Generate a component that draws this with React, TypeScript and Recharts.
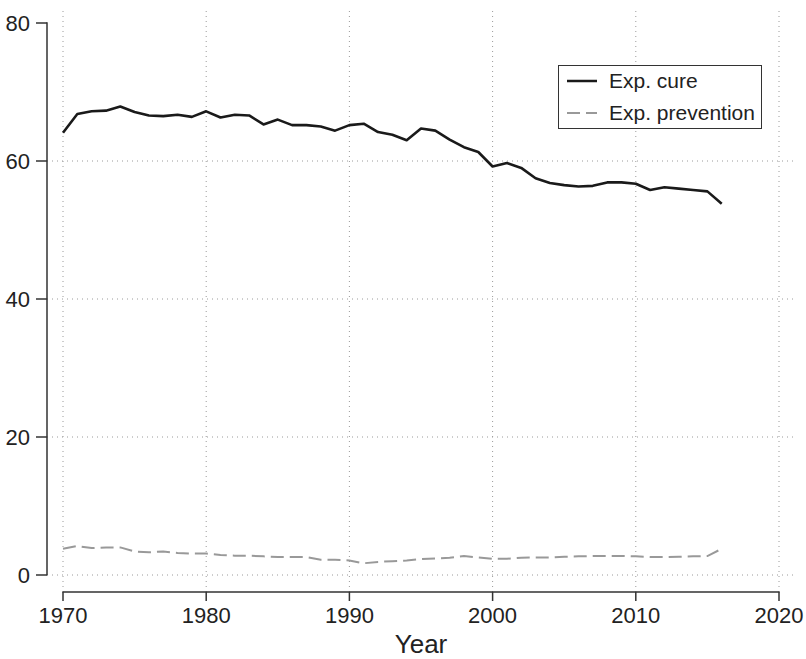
import {
  LineChart, Line, XAxis, YAxis, ReferenceLine, Legend,
} from 'recharts'

const YEARS = [
  1970, 1971, 1972, 1973, 1974, 1975, 1976, 1977, 1978, 1979,
  1980, 1981, 1982, 1983, 1984, 1985, 1986, 1987, 1988, 1989,
  1990, 1991, 1992, 1993, 1994, 1995, 1996, 1997, 1998, 1999,
  2000, 2001, 2002, 2003, 2004, 2005, 2006, 2007, 2008, 2009,
  2010, 2011, 2012, 2013, 2014, 2015, 2016,
]

const CURE = [
  64.1, 66.8, 67.2, 67.3, 67.9, 67.1, 66.6, 66.5, 66.7, 66.4,
  67.2, 66.3, 66.7, 66.6, 65.3, 66.0, 65.2, 65.2, 65.0, 64.4,
  65.2, 65.4, 64.2, 63.8, 63.0, 64.7, 64.4, 63.1, 62.0, 61.3,
  59.2, 59.7, 59.0, 57.5, 56.8, 56.5, 56.3, 56.4, 56.9, 56.9,
  56.7, 55.8, 56.2, 56.0, 55.8, 55.6, 53.8,
]

const PREVENTION = [
  3.8, 4.2, 3.9, 4.0, 4.0, 3.4, 3.3, 3.4, 3.2, 3.1,
  3.1, 2.9, 2.8, 2.8, 2.7, 2.6, 2.6, 2.6, 2.2, 2.2,
  2.1, 1.7, 1.9, 2.0, 2.1, 2.3, 2.4, 2.5, 2.75, 2.55,
  2.35, 2.35, 2.5, 2.55, 2.55, 2.65, 2.7, 2.75, 2.75, 2.75,
  2.7, 2.6, 2.6, 2.65, 2.7, 2.75, 3.8,
]

const X_TICKS = [1970, 1980, 1990, 2000, 2010, 2020]
const Y_TICKS = [0, 20, 40, 60, 80]
// Stata leaves out the grid line at the top value
const Y_GRID = [0, 20, 40, 60]

const data = YEARS.map((year, i) => ({ year, cure: CURE[i], prevention: PREVENTION[i] }))

const FONT = '"Liberation Sans", Arial, Helvetica, sans-serif'
const AXIS = '#333'
const GRID = '#9a9a9a'

function LegendBox() {
  const rows = [
    { label: 'Exp. cure', color: '#1a1a1a', dash: undefined, w: 2.5 },
    { label: 'Exp. prevention', color: '#999', dash: '13 6', w: 2 },
  ]
  return (
    <div style={{
      width: 204, boxSizing: 'border-box', border: '1.5px solid #333', background: '#fff',
      padding: '1px 8px', fontFamily: FONT, fontSize: 21, color: '#222',
    }}>
      {rows.map((r, i) => (
        <div key={r.label} style={{ display: 'flex', alignItems: 'center', height: 28, marginTop: i ? 4 : 0, whiteSpace: 'nowrap' }}>
          <svg width={30} height={6} style={{ marginRight: 12, flex: 'none' }}>
            <line x1={0} y1={3} x2={30} y2={3} stroke={r.color} strokeWidth={r.w} strokeDasharray={r.dash} />
          </svg>
          <span>{r.label}</span>
        </div>
      ))}
    </div>
  )
}

export default function App() {
  return (
    <div style={{ position: 'absolute', left: 0, top: 0, background: '#fff' }}>
      <LineChart width={806} height={659} data={data} margin={{ top: 10, right: 11, bottom: 0, left: 0 }}>
        {Y_GRID.map(v => (
          <ReferenceLine key={'y' + v} y={v} stroke={GRID} strokeDasharray="1 4" strokeWidth={1} />
        ))}
        {X_TICKS.map(v => (
          <ReferenceLine key={'x' + v} x={v} stroke={GRID} strokeDasharray="1 4" strokeWidth={1} />
        ))}
        <XAxis
          dataKey="year" type="number" domain={[1970, 2020]} ticks={X_TICKS}
          padding={{ left: 16, right: 16 }} height={67}
          tickSize={9} tickMargin={6}
          tick={{ fontSize: 22, fill: '#222', fontFamily: FONT }}
          tickLine={{ stroke: AXIS, strokeWidth: 1.5 }}
          axisLine={{ stroke: AXIS, strokeWidth: 1.5, strokeDasharray: '0 15.5 717 16' }}
          label={{ value: 'Year', position: 'insideBottom', offset: 6, fontSize: 26, fill: '#222', fontFamily: FONT }}
        />
        <YAxis
          type="number" domain={[0, 80]} ticks={Y_TICKS} width={47}
          padding={{ top: 13, bottom: 17 }}
          tickSize={11} tickMargin={6}
          tick={{ fontSize: 22, fill: '#222', fontFamily: FONT }}
          tickLine={{ stroke: AXIS, strokeWidth: 1.5 }}
          axisLine={{ stroke: AXIS, strokeWidth: 1.5, strokeDasharray: '0 12.2 553 17' }}
        />
        <Legend
          layout="vertical" align="center" verticalAlign="middle"
          wrapperStyle={{ left: 558, top: 65, width: 204 }}
          content={() => <LegendBox />}
        />
        <Line
          dataKey="cure" stroke="#1a1a1a" strokeWidth={2.6} dot={false}
          strokeLinejoin="round" isAnimationActive={false}
        />
        <Line
          dataKey="prevention" stroke="#999" strokeWidth={2} strokeDasharray="13 6" dot={false}
          isAnimationActive={false}
        />
      </LineChart>
    </div>
  )
}
